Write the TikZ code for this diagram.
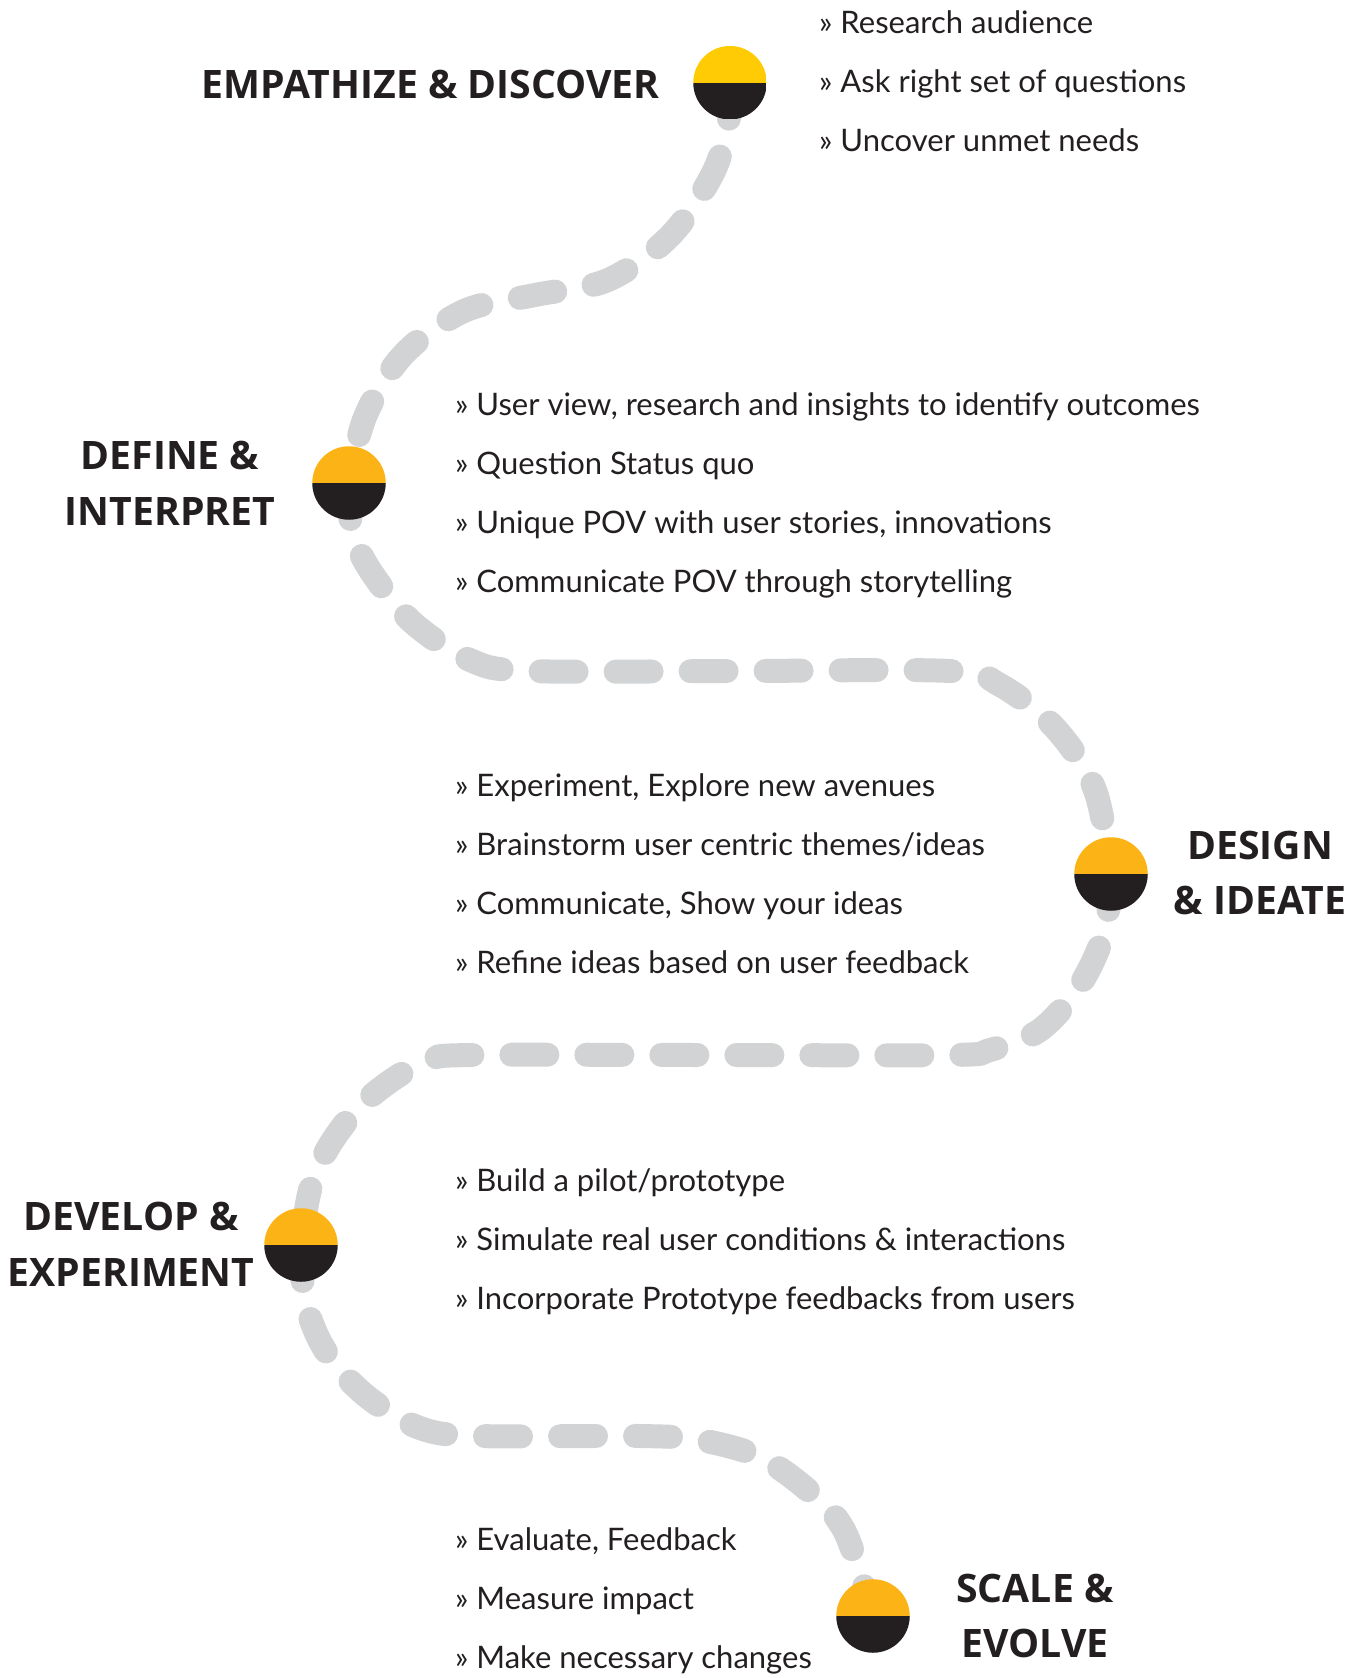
\documentclass[tikz,border=0pt]{standalone}
\usepackage{fontspec}
\setmainfont{Lato}
\newfontfamily\headfont{Open Sans}
\usetikzlibrary{backgrounds}
\definecolor{ink}{HTML}{231F20}
\definecolor{sun}{HTML}{FFCB05}
\definecolor{amber}{HTML}{FCB316}
\definecolor{trailgray}{HTML}{D1D3D4}
\tikzset{
  stage/.style={circle, minimum size=73.5pt, inner sep=0pt, path picture={
      \fill[#1] (path picture bounding box.north west) rectangle (path picture bounding box.east);
      \fill[ink] (path picture bounding box.west) rectangle (path picture bounding box.south east);}},
  stage/.default=amber,
  trail/.style={draw=trailgray, line width=24pt, line cap=round, dash pattern=on 36pt off 39pt},
  head/.style={font=\headfont\bfseries\fontsize{39.2}{46}\selectfont, text=ink, inner sep=0pt, anchor=base},
  item/.style={font=\fontsize{31}{34}\selectfont, text=ink, inner sep=0pt, anchor=base west},
}
\begin{document}
\begin{tikzpicture}[x=1pt, y=-1pt]
\useasboundingbox (0,0) rectangle (1364,1678);
% stages
\node[stage=sun] (s1) at (730,82.7) {};
\node[stage] (s2) at (349,483) {};
\node[stage] (s3) at (1111,874) {};
\node[stage] (s4) at (301,1245) {};
\node[stage] (s5) at (873,1616) {};
% trail
\begin{scope}[on background layer]
\draw[trail] plot[smooth, tension=0.55] coordinates {(s1.center) (728,125) (712,175) (670,236) (608,280) (535,295) (464,311) (403,355) (365,417) (s2.center)};
\draw[trail] plot[smooth, tension=0.55] coordinates {(s2.center) (352,530) (370,570) (412,622) (470,660) (530,671) (740,671) (950,671) (1000,685) (1055,728) (1095,790) (s3.center)};
\draw[trail] plot[smooth, tension=0.55] coordinates {(s3.center) (1105,930) (1080,985) (1040,1030) (990,1050) (950,1055) (710,1055) (470,1055) (430,1060) (395,1078) (358,1108) (328,1148) (310,1190) (s4.center)};
\draw[trail] plot[smooth, tension=0.55] coordinates {(s4.center) (305,1300) (325,1350) (365,1395) (420,1428) (480,1436) (640,1436) (700,1440) (760,1457) (810,1492) (845,1532) (s5.center)};
\end{scope}
% headings
\node[head, anchor=base east] (h1) at (660,98) {EMPATHIZE \& DISCOVER};
\node[head] (h2a) at (170,469.5) {DEFINE \&};
\node[head] (h2b) at (170,525) {INTERPRET};
\node[head] (h3a) at (1260,859) {DESIGN};
\node[head] (h3b) at (1260,914) {\& IDEATE};
\node[head] (h4a) at (131,1230) {DEVELOP \&};
\node[head] (h4b) at (131,1286) {EXPERIMENT};
\node[head] (h5a) at (1035,1602) {SCALE \&};
\node[head] (h5b) at (1035,1657) {EVOLVE};
% items
\node[item] (i11) at (819,33.5) {» Research audience};
\node[item] (i12) at (819,92.4) {» Ask right set of questions};
\node[item] (i13) at (819,151.2) {» Uncover unmet needs};
\node[item] (i21) at (455,415.5) {» User view, research and insights to identify outcomes};
\node[item] (i22) at (455,474.4) {» Question Status quo};
\node[item] (i23) at (455,533.2) {» Unique POV with user stories, innovations};
\node[item] (i24) at (455,592.1) {» Communicate POV through storytelling};
\node[item] (i31) at (455,796.5) {» Experiment, Explore new avenues};
\node[item] (i32) at (455,855.3) {» Brainstorm user centric themes/ideas};
\node[item] (i33) at (455,914.2) {» Communicate, Show your ideas};
\node[item] (i34) at (455,973) {» Refine ideas based on user feedback};
\node[item] (i41) at (455,1191.3) {» Build a pilot/prototype};
\node[item] (i42) at (455,1250.1) {» Simulate real user conditions \& interactions};
\node[item] (i43) at (455,1309) {» Incorporate Prototype feedbacks from users};
\node[item] (i51) at (455,1550.8) {» Evaluate, Feedback};
\node[item] (i52) at (455,1609.7) {» Measure impact};
\node[item] (i53) at (455,1668.5) {» Make necessary changes};
\end{tikzpicture}
\end{document}
